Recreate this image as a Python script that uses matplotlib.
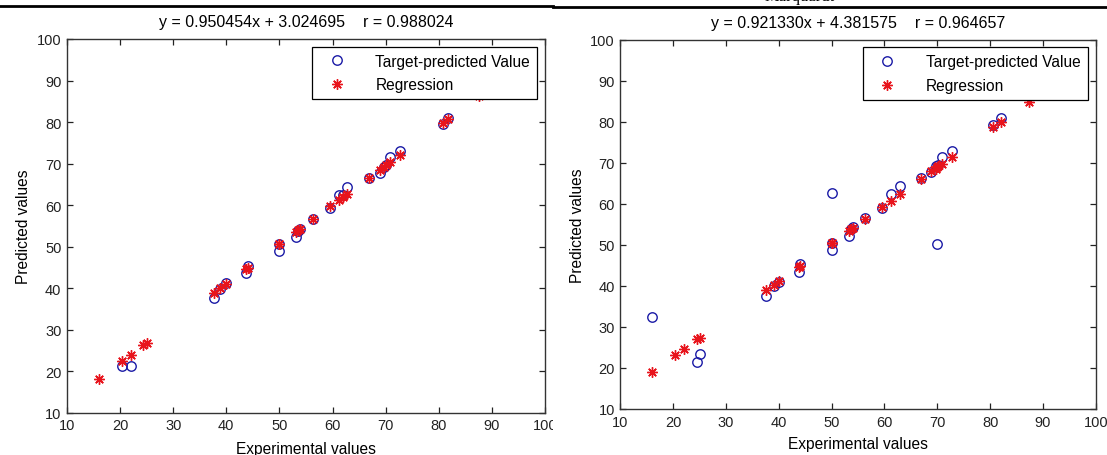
import matplotlib
matplotlib.use('Agg')
import matplotlib.pyplot as plt
import numpy as np
from matplotlib.transforms import Bbox, TransformedBbox

plt.rcParams['font.family'] = ['Liberation Sans', 'DejaVu Sans']

# left panel
exp_left = [16.0, 20.4, 22.0, 24.4, 25.0, 37.6, 38.9, 39.9, 43.8, 44.0, 50.0, 50.0,
            53.1, 53.5, 53.9, 56.4, 59.6, 61.3, 62.0, 62.7, 66.9, 68.9, 69.6, 70.0,
            70.8, 72.7, 80.8, 81.8, 87.5]
pred_left = [np.nan, 21.3, 21.3, np.nan, np.nan, 37.6, 39.8, 41.3, 43.6, 45.4, 49.0, 50.6,
             52.3, 53.8, 54.3, 56.7, 59.3, 62.3, 62.5, 64.3, 66.5, 67.7, 69.2, 69.6,
             71.5, 73.1, 79.5, 80.9, 88.5]
reg_left = [18.2, 22.4, 23.9, 26.2, 26.8, 38.8, 40.0, 41.0, 44.6, 44.8, 50.5, 50.5,
            53.5, 53.9, 54.3, 56.6, 59.7, 61.3, 62.0, 62.6, 66.6, 68.5, 69.2, 69.6,
            70.3, 72.1, 79.8, 80.8, 86.2]
title_left = 'y = 0.950454x + 3.024695    r = 0.988024'

# right panel
exp_right = [16.0, 20.4, 22.0, 24.4, 25.0, 37.6, 39.0, 40.0, 43.8, 44.0, 50.0, 50.0, 50.0,
             53.2, 53.6, 54.0, 56.4, 59.6, 61.2, 62.9, 66.9, 68.9, 69.7, 70.0, 70.2,
             70.8, 72.8, 80.6, 82.0, 87.4]
pred_right = [32.3, np.nan, np.nan, 21.4, 23.5, 37.6, 40.0, 40.9, 43.3, 45.3, 48.8, 50.4, 62.6,
              52.1, 53.8, 54.3, 56.6, 59.0, 62.3, 64.4, 66.4, 67.8, 69.3, 50.2, 69.5,
              71.5, 72.9, 79.3, 80.9, 89.0]
reg_right = [19.1, 23.2, 24.7, 27.1, 27.4, 39.0, 40.3, 41.2, 44.7, 44.9, 50.5, 50.5, 50.5,
             53.4, 53.8, 54.1, 56.3, 59.3, 60.8, 62.3, 66.0, 67.9, 68.6, 68.9, 69.1,
             69.6, 71.5, 78.6, 79.9, 84.9]
title_right = 'y = 0.921330x + 4.381575    r = 0.964657'

ticks = [10, 20, 30, 40, 50, 60, 70, 80, 90, 100]

fig = plt.figure(figsize=(11.07, 4.56), dpi=100)
ax1 = fig.add_axes([0.0605, 0.093, 0.4318, 0.8193])
ax2 = fig.add_axes([0.5605, 0.1009, 0.4293, 0.8099])


def draw(ax, x, t, r, title, xpad):
    ax.plot(x, t, 'o', color='#1a1aa6', mfc='none', ms=6.8, mew=1.0,
            label='Target-predicted Value')
    ax.plot(x, r, marker=(8, 2, 0), ls='none', color='#e8141c', ms=7.5, mew=1.0,
            label='Regression')
    ax.set_xlim(10, 100)
    ax.set_ylim(10, 100)
    ax.set_xticks(ticks)
    ax.set_yticks(ticks)
    ax.tick_params(direction='in', top=True, right=True, length=4, width=0.9,
                   labelsize=10.5, pad=4, colors='#222222')
    for s in ax.spines.values():
        s.set_linewidth(1.0)
        s.set_color('#333333')
    ax.set_title(title, fontsize=11.5, pad=9)
    ax.set_xlabel('Experimental values', fontsize=11.2, labelpad=xpad)
    ax.set_ylabel('Predicted values', fontsize=11.2, labelpad=4)
    leg = ax.legend(loc='upper right', fancybox=False, framealpha=1, edgecolor='black',
                    fontsize=11.2, borderaxespad=0.5, handletextpad=1.4,
                    borderpad=0.45, labelspacing=0.55, handlelength=2.2)
    leg.get_frame().set_linewidth(0.9)
    leg.set_zorder(5)


draw(ax1, exp_left, pred_left, reg_left, title_left, 6.5)
draw(ax2, exp_right, pred_right, reg_right, title_right, 5.5)

# the left screenshot is cut off at its right edge
clip = TransformedBbox(Bbox([[0, 0], [553 / 1107, 1]]), fig.transFigure)
fig.canvas.draw()
for lab in ax1.get_xticklabels():
    lab.set_clip_on(True)
    lab.set_clip_box(clip)

# page rules and cut-off heading at the top
fig.add_artist(plt.Line2D([0, 553 / 1107], [1 - 6.5 / 456] * 2, color='black', lw=2.0,
                          transform=fig.transFigure))
fig.add_artist(plt.Line2D([553 / 1107, 1], [1 - 8 / 456] * 2, color='black', lw=2.0,
                          transform=fig.transFigure))
fig.text(800 / 1107, 1 + 3 / 456, 'Marquardt', ha='center', va='center', fontsize=12,
         family='Liberation Serif')

fig.savefig('out.png', dpi=100)
